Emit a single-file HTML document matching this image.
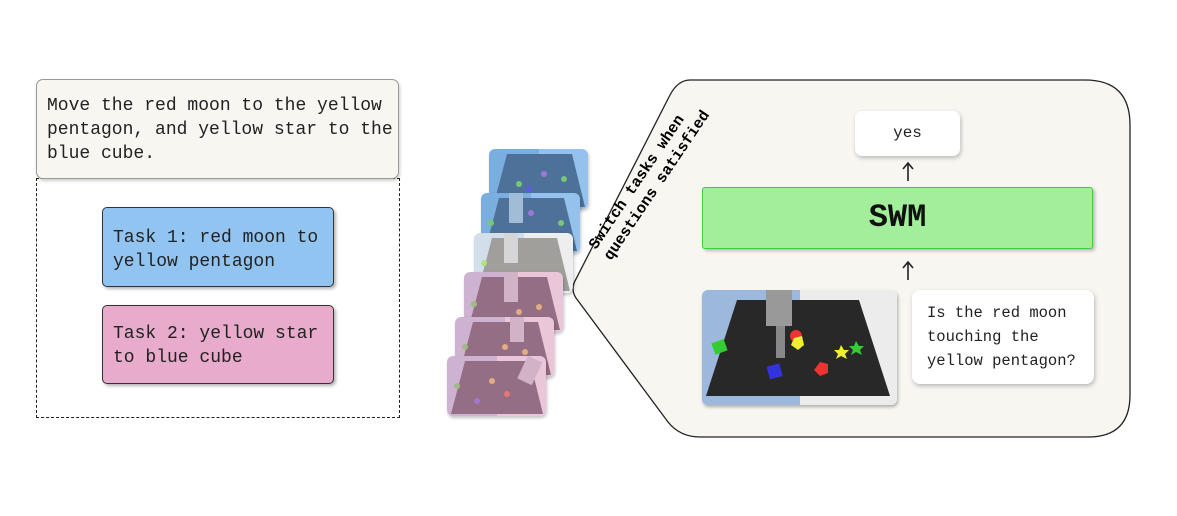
<!DOCTYPE html>
<html><head><meta charset="utf-8"><style>
body{margin:0;width:1177px;height:516px;background:#fff;position:relative;overflow:hidden;font-family:"Liberation Mono",monospace;color:#222}
.abs{position:absolute;box-sizing:border-box}
.txt{font-size:18px;line-height:24px;white-space:nowrap}
.img{position:absolute;width:99px;height:60px;border-radius:6px;overflow:hidden;box-shadow:1px 2px 3px rgba(0,0,0,.3)}
</style></head><body>
<div class="abs" style="left:36px;top:178px;width:364px;height:240px;border:1px dashed #222"></div>
<div class="abs txt" style="left:36px;top:79px;width:363px;height:100px;background:#f7f6f1;border:1px solid #999;border-radius:7px;padding:14px 0 0 10px;box-shadow:1px 2px 3px rgba(0,0,0,.2)">Move the red moon to the yellow<br>pentagon, and yellow star to the<br>blue cube.</div>
<div class="abs txt" style="left:102px;top:207px;width:232px;height:80px;background:#92c4f2;border:1px solid #333;border-radius:5px;padding:18px 0 0 10px;box-shadow:2px 2px 3px rgba(0,0,0,.3)">Task 1: red moon to<br>yellow pentagon</div>
<div class="abs txt" style="left:102px;top:305px;width:232px;height:79px;background:#e8abcb;border:1px solid #333;border-radius:5px;padding:16px 0 0 10px;box-shadow:2px 2px 3px rgba(0,0,0,.3)">Task 2: yellow star<br>to blue cube</div>

<svg class="abs" style="left:0;top:0" width="1177" height="516">
<path d="M690 80 L1085 80 Q1130 80 1130 125 L1130 395 Q1130 437 1088 437 L700 437 Q680 437 668 422 L576 298 Q570 289 576 279 L670 95 Q678 80 690 80 Z" fill="#f7f6f1" stroke="#222" stroke-width="1.3"/>
<text transform="translate(596,250) rotate(-56)" font-family="Liberation Mono,monospace" font-weight="bold" font-size="15.5">Switch tasks when</text>
<text transform="translate(611,261) rotate(-56)" font-family="Liberation Mono,monospace" font-weight="bold" font-size="15.5">questions satisfied</text>
<g stroke="#222" stroke-width="1.6" fill="none"><path d="M908 181 V163 M903 169 L908 163 L913 169"/><path d="M908 280 V262 M903 268 L908 262 L913 268"/></g>
</svg>

<div class="abs" style="left:855px;top:111px;width:105px;height:45px;background:#fff;border-radius:7px;box-shadow:1px 2px 4px rgba(0,0,0,.25);font-size:16px;text-align:center;line-height:45px">yes</div>
<div class="abs" style="left:702px;top:187px;width:391px;height:62px;background:#a3ee9a;border:1px solid #3fcc3f;border-radius:3px;box-shadow:2px 2px 3px rgba(0,0,0,.25);font-size:32px;font-weight:bold;text-align:center;line-height:60px;color:#111">SWM</div>
<div class="abs" style="left:912px;top:290px;width:182px;height:94px;background:#fff;border-radius:8px;box-shadow:1px 2px 4px rgba(0,0,0,.25);font-size:15.5px;line-height:24px;padding:11px 0 0 15px">Is the red moon<br>touching the<br>yellow pentagon?</div>

<div class="abs" style="left:702px;top:290px;width:195px;height:115px;border-radius:6px;overflow:hidden;box-shadow:1px 2px 3px rgba(0,0,0,.3)">
<svg width="195" height="115"><rect width="98" height="115" fill="#9cb8dc"/><rect x="98" width="97" height="115" fill="#ececec"/>
<polygon points="35,10 157,10 188,106 4,106" fill="#282828"/>
<rect x="64" y="0" width="26" height="36" fill="#999"/><rect x="74" y="36" width="9" height="32" fill="#888"/>
<rect x="11" y="51" width="13" height="12" fill="#3c3" transform="rotate(-20 17 57)"/>
<rect x="66" y="75" width="13" height="13" fill="#33d" transform="rotate(-15 72 81)"/>
<path d="M62 27 a7 7 0 1 0 4 14 a5 5 0 0 1 -4 -14z" fill="#33c"/>
<circle cx="94" cy="46" r="6" fill="#e33"/><polygon points="92,48 100,46 102,55 96,60 89,55" fill="#ee3"/>
<polygon points="118,72 126,74 126,83 118,86 112,80" fill="#e33"/>
<polygon points="139,55 142,60 147,60 143,64 145,69 139,66 134,69 136,64 132,60 137,60" fill="#ee3"/>
<polygon points="154,51 157,56 162,56 158,60 160,65 154,62 149,65 151,60 147,56 152,56" fill="#3c3"/>
</svg></div>

<div style="position:absolute;left:0;top:0;opacity:.8">
<div class="img" style="left:489px;top:149px"><svg width="99" height="60"><rect width="50" height="60" fill="#5a9ad8"/><rect x="50" width="49" height="60" fill="#7ab4e8"/><polygon points="18,5 83,5 96,58 4,58" fill="#214e80"/><circle cx="30" cy="35" r="3" fill="#5b5"/><circle cx="75" cy="30" r="3" fill="#5b5"/><circle cx="40" cy="40" r="3" fill="#33d"/><circle cx="55" cy="25" r="3" fill="#85c"/></svg></div>
<div class="img" style="left:481px;top:193px"><svg width="99" height="60"><rect width="50" height="60" fill="#5a9ad8"/><rect x="50" width="49" height="60" fill="#7ab4e8"/><polygon points="18,5 83,5 96,58 4,58" fill="#214e80"/><rect x="28" y="0" width="14" height="30" fill="#8aaccc"/><circle cx="10" cy="30" r="3" fill="#5b5"/><circle cx="80" cy="30" r="3" fill="#5b5"/><circle cx="50" cy="20" r="3" fill="#85c"/></svg></div>
<div class="img" style="left:474px;top:233px"><svg width="99" height="60"><rect width="50" height="60" fill="#c8d6e4"/><rect x="50" width="49" height="60" fill="#ebebeb"/><polygon points="18,5 83,5 96,58 4,58" fill="#8a8884"/><rect x="30" y="0" width="14" height="30" fill="#ccc"/><circle cx="10" cy="30" r="3" fill="#9d6"/><circle cx="45" cy="42" r="3" fill="#dd6"/><circle cx="70" cy="45" r="3" fill="#dd6"/></svg></div>
<div class="img" style="left:464px;top:272px"><svg width="99" height="60"><rect width="50" height="60" fill="#c2a0c8"/><rect x="50" width="49" height="60" fill="#e6b8d0"/><polygon points="18,5 83,5 96,58 4,58" fill="#7a4a66"/><rect x="40" y="0" width="14" height="30" fill="#c8a0b8"/><circle cx="10" cy="32" r="3" fill="#8a6"/><circle cx="55" cy="40" r="3" fill="#d96"/><circle cx="75" cy="35" r="3" fill="#d96"/><circle cx="60" cy="48" r="3" fill="#d55"/></svg></div>
<div class="img" style="left:455px;top:317px"><svg width="99" height="60"><rect width="50" height="60" fill="#c2a0c8"/><rect x="50" width="49" height="60" fill="#e6b8d0"/><polygon points="18,5 83,5 96,58 4,58" fill="#7a4a66"/><rect x="55" y="0" width="14" height="25" fill="#c8a0b8"/><circle cx="10" cy="30" r="3" fill="#8a6"/><circle cx="50" cy="30" r="3" fill="#d96"/><circle cx="70" cy="35" r="3" fill="#d96"/></svg></div>
<div class="img" style="left:447px;top:356px"><svg width="99" height="60"><rect width="50" height="60" fill="#c2a0c8"/><rect x="50" width="49" height="60" fill="#e6b8d0"/><polygon points="18,5 83,5 96,58 4,58" fill="#7a4a66"/><rect x="75" y="2" width="16" height="25" fill="#c8a0b8" transform="rotate(25 83 14)"/><circle cx="10" cy="30" r="3" fill="#8a6"/><circle cx="45" cy="25" r="3" fill="#d96"/><circle cx="60" cy="38" r="3" fill="#d55"/><circle cx="30" cy="45" r="3" fill="#85c"/></svg></div>
</div>
</body></html>
